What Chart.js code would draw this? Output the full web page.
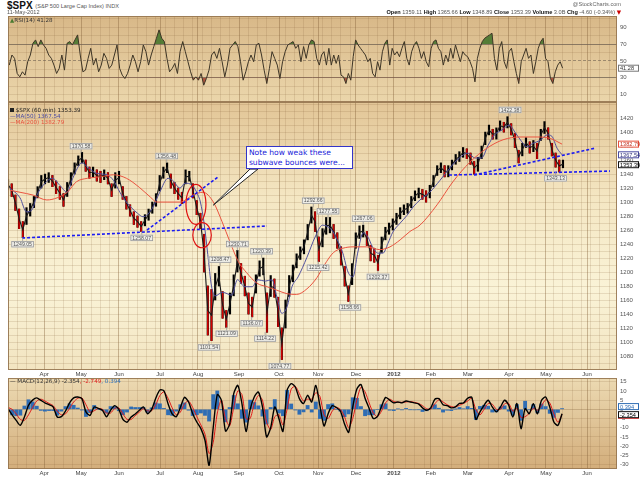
<!DOCTYPE html>
<html><head><meta charset="utf-8">
<title>$SPX 60 min</title>
<script src="https://cdn.jsdelivr.net/npm/chart.js@4.4.1/dist/chart.umd.min.js"></script>
<style>
html,body{margin:0;padding:0;background:#fff;}
body{width:640px;height:479px;position:relative;overflow:hidden;font-family:"Liberation Sans",Arial,sans-serif;}
.t{position:absolute;white-space:nowrap;line-height:1;z-index:3;}
canvas{position:absolute;left:0;}
.dv{font-family:"DejaVu Sans",sans-serif;}
</style></head><body>
<div class="t" style="left:7px;top:1px;font-size:10px;font-weight:bold;color:#111">$SPX <span style="font-size:5.6px;font-weight:normal;color:#555;position:relative;top:-1px">(S&amp;P 500 Large Cap Index) INDX</span></div>
<div class="t" style="left:7px;top:10px;font-size:5.6px;color:#555">11-May-2012</div>
<div class="t" style="right:19px;top:2px;font-size:5.6px;color:#666">@StockCharts.com</div>
<div class="t" style="right:19px;top:10px;font-size:5.6px;color:#555"><b style="color:#111">Open</b> 1359.11 <b style="color:#111">High</b> 1365.66 <b style="color:#111">Low</b> 1348.89 <b style="color:#111">Close</b> 1353.39 <b style="color:#111">Volume</b> 3.0B <b style="color:#111">Chg</b> -4.60 (-0.34%) <span class="dv" style="color:#c00">&#9660;</span></div>

<div class="t dv" style="left:10px;top:18px;font-size:5.6px;color:#333"><span style="color:#4a7a30">&#9650;</span>RSI(14) 41.28</div>

<div class="t dv" style="left:10px;top:107.5px;font-size:5.6px;color:#222"><span style="display:inline-block;width:4px;height:4px;background:#222"></span> $SPX (60 min) 1353.39</div>
<div class="t dv" style="left:10px;top:113.5px;font-size:5.6px;color:#4b4ba0">&#8212;MA(50) 1367.54</div>
<div class="t dv" style="left:10px;top:119.5px;font-size:5.6px;color:#e8503c">&#8212;MA(200) 1382.79</div>

<div class="t dv" style="left:10px;top:379px;font-size:5.6px;color:#333">&#8212; MACD(12,26,9) -2.354<span style="color:#e02020">, -2.749</span><span style="color:#3070b8">, 0.394</span></div>

<div id="note" class="t dv" style="border:1px solid #3434c8;background:#fff;color:#2222d8;font-size:7.6px;line-height:10px;padding:1px 2px;box-sizing:border-box;">Note how weak these<br>subwave bounces were...</div>

<canvas id="rsi" width="640" height="86" style="top:16px;width:640px;height:86px"></canvas>
<canvas id="main" width="640" height="276" style="top:102px;width:640px;height:276px"></canvas>
<canvas id="macd" width="640" height="101" style="top:378px;width:640px;height:101px"></canvas>

<script>
// ---------------- DATA ----------------
// time axis: trading days from start of data (early March 2011)
const monthTickDays   = [19.5, 39.5, 60, 82.2, 102.7, 124.9, 146.5, 167.6, 188.1, 208.6, 228.6, 248.6, 270.8, 290.8, 313];
const monthTickLabels = ['Apr','May','Jun','Jul','Aug','Sep','Oct','Nov','Dec','2012','Feb','Mar','Apr','May','Jun'];

// price (60 min bars, sampled every 2 trading days): high / low
const priceStartDay = 0, priceStepDays = 2;
const priceHigh = [1332,1326,1310,1290,1272,1292,1298,1308,1322,1338,
1340,1342,1338,1330,1322,1312,1328,1342,1356,1366,
1371,1360,1350,1350,1346,1344,1346,1342,1326,1342,
1344,1322,1308,1296,1286,1280,1272,1282,1290,1300,
1312,1338,1350,1356,1340,1328,1320,1314,1346,1344,
1326,1302,1284,1254,1180,1175,1198,1208,1172,1145,
1170,1196,1231,1212,1194,1170,1164,1196,1216,1220,
1170,1195,1190,1164,1120,1160,1195,1210,1226,1236,
1246,1268,1293,1286,1250,1262,1278,1278,1268,1256,
1236,1208,1180,1212,1256,1266,1267,1258,1238,1234,
1224,1250,1264,1270,1276,1284,1292,1296,1298,1308,
1316,1320,1318,1316,1324,1338,1352,1356,1352,1352,
1360,1368,1372,1378,1376,1370,1358,1364,1380,1400,
1410,1404,1406,1416,1414,1422,1412,1398,1374,1384,
1392,1386,1388,1384,1404,1415,1406,1384,1370,1360,
1360];
const priceLow = [1318,1308,1288,1262,1249,1268,1280,1292,1306,1320,
1326,1328,1322,1312,1304,1294,1308,1324,1340,1352,
1356,1344,1334,1336,1330,1328,1332,1326,1308,1320,
1326,1304,1290,1280,1268,1264,1258,1266,1274,1284,
1294,1316,1334,1342,1320,1312,1304,1298,1326,1330,
1306,1282,1262,1200,1110,1102,1160,1180,1134,1121,
1140,1166,1200,1184,1166,1140,1136,1170,1194,1196,
1114,1165,1164,1122,1075,1120,1165,1186,1206,1218,
1226,1246,1270,1258,1215,1236,1254,1256,1248,1234,
1210,1180,1158,1182,1234,1248,1250,1238,1216,1214,
1202,1228,1246,1254,1260,1268,1276,1282,1284,1292,
1302,1306,1304,1300,1306,1322,1338,1342,1336,1336,
1346,1354,1358,1364,1362,1354,1340,1344,1362,1382,
1396,1390,1390,1402,1400,1406,1396,1378,1356,1366,
1378,1370,1372,1362,1388,1398,1390,1366,1350,1343,
1349];
const lastClose = 1353.39;

// moving averages
const ma50Days = [1,6.5,10,13,15.7,19,24,28,32,35,40,43,48,53.5,57,60.5,64,70,73,78,82,86.5,89,93,95.7,99.5,102.7,104,106,108,110,112,116,121,124,128,132,135,139,142.7,145.4,148,150.8,153.5,156.8,161.6,166,170,175,178,181,183.8,186.5,189,192,194.6,197,200,202.7,205.4,208,212,215.7,219,222.7,228,233.5,239,244,248.6,252.4,256,259.5,263,267,271,274,277.8,280.5,283.8,287.6,291.4,294,296.8,299.5];
const ma50Vals = [1320,1306,1286,1289,1310,1324,1334,1324,1314,1334,1356,1350,1341,1339,1331,1314,1300,1284,1279,1291,1314,1334,1331,1320,1327,1324,1310,1300,1270,1225,1180,1166,1171,1167,1189,1179,1179,1189,1187,1189,1164,1141,1150,1179,1193,1221,1250,1267,1260,1246,1227,1200,1193,1227,1256,1250,1236,1227,1227,1241,1257,1270,1281,1293,1303,1314,1331,1349,1363,1370,1363,1363,1381,1396,1403,1410,1400,1386,1379,1384,1388,1396,1394,1377,1367.54];
const ma200Days = [1,6.5,13.5,21,26.5,32,37,43,50,57,64,71,77,80.5,86,93,100,105.4,111,115.7,120,124.3,129,134.6,140,145.4,150.8,156,161.6,167,171,176,181,186.5,194,201,206.5,212,217.3,222.7,231.9,240.5,249.7,258.9,267.6,276.8,286,293,299.5];
const ma200Vals = [1317,1314,1310,1303,1306,1314,1329,1334,1336,1339,1334,1321,1307,1300,1300,1300,1310,1314,1300,1272,1243,1216,1199,1184,1179,1174,1169,1168,1176,1192,1210,1228,1234,1236,1236,1232,1236,1246,1258,1267,1296,1329,1357,1377,1389,1393,1393,1391,1382.79];

// hand-drawn trendlines [day, price] pairs
const trendLines = [
  [[7.6,1248.6],[140,1265.7]],
  [[75.1,1260],[113.5,1335.7]],
  [[238.4,1338.6],[325.4,1344.3]],
  [[251.9,1338.6],[317.3,1377]]
];

// StockCharts price annotations
const peakLabels = ['1249.05','1370.58','1258.07','1356.48','1101.54','1208.47','1121.09','1230.71','1136.07','1220.39','1114.22','1074.77','1292.66','1215.42','1277.55','1158.66','1267.06','1202.37','1422.38','1343.13'];
const peakDays   = [7.9,39.5,72.3,85.8,108.6,114.6,118.2,124,131.7,137.1,139,147,165,167.6,173,184.9,192,200,271.4,296];
const peakSide   = ['below','above','below','above','below','above','below','above','below','above','below','below','above','below','above','below','above','below','above','below'];

// red ellipse annotations [day, price, radiusDays, radiusPrice]
const ellipses = [[101.6,1296.7,5.4,28.6],[104.9,1252.6,5.0,17.9]];
// callout box [day0, day1, priceTop, priceBottom], pointer tip and base
const noteBox = [128.6,186.5,1380,1347.1];
const notePointer = [[111,1295.7],[130.8,1347.1],[135.1,1347.1]];

// RSI(14)
const rsiPart1Span = [0.7,168.3];
const rsiPart1 = [45,57,53,35,31,37,33,49,57,71,
75,67,75,69,65,57,53,45,35,41,
57,39,71,73,69,75,81,57,37,39,
53,65,45,53,37,45,59,53,41,45,
57,69,41,33,29,35,45,57,49,37,
49,69,61,45,57,67,77,87,77,73,
53,37,41,47,35,61,73,61,49,37,
27,31,27,35,21,29,39,57,61,53,
65,49,31,45,65,69,73,67,49,27,
37,49,57,49,69,71,57,39,23,41,
61,53,45,29,49,61,69,71,73,65,
69,49,67,53,69,75,73,53,45];
const rsiPart2Span = [169.5,299.8];
const rsiPart2 = [57,61,45,65,45,57,47,57,33,31,
23,35,27,55,75,69,65,61,57,49,
53,35,31,49,39,61,71,75,45,65,
57,61,55,65,73,53,45,61,69,73,
65,53,61,49,43,65,73,75,65,61,
45,57,49,65,53,69,59,49,61,57,
55,49,41,25,53,65,73,77,79,81,
83,53,39,65,73,49,41,61,65,49,
35,23,49,57,65,53,57,35,49,65,
73,77,53,49,29,23,37,45,49,41.28];

// MACD(12,26,9)
const macdSpan = [0,299.5];
const macdLine = [0.4,-3,-6,-8.7,-4.2,2.2,5,6.2,4.9,3.5,
2.5,1.3,-4.2,-4,-1,3.5,6.2,6.7,5.8,-1.4,
-3.3,1.3,0.5,-0.5,-4,-0.5,2,0,-5.5,-7,
-4.2,-2.5,-0.5,1.3,-2.4,0,6,10.5,10,3,
-2.5,-4,1,6.5,4,-2.4,-6.9,-10.5,-16.8,-30.4,
-10,8,4.9,-11.8,-8,8.5,13,3.1,-12,0,
6.7,9.4,1.3,-15,-10,1.3,-5,-12,10.3,13.9,
12.1,5.8,3.1,7.6,4,13,2,-9,-2.4,2,
1,-1,-8,-12.5,1.3,11,13.5,6,0.5,-5,
-4,1.5,6.5,5,3.5,4,3.5,4.5,4,3.5,
3,0.8,-0.5,0.8,5.5,5.8,2.5,2,0.8,1.3,
3.2,3.5,6,6.5,-5.5,-1.4,2.2,4.9,1.3,-1.4,
1.3,4.9,2.2,-4.2,3.1,-10.5,0.4,-2.4,3.1,-2.4,
4.9,6.7,1.3,-6.9,-8.7,-2.354];
const macdSignal = [1,0,-2.5,-5.5,-6,-3,1,4.5,5.5,4.5,
3.2,2,-1,-3,-2.5,0.5,4,6,6.2,2.5,
-1.5,-0.8,0.5,0,-2,-2,0.5,0.8,-2.5,-5.5,
-5.5,-3.5,-1.5,0.3,-0.8,-0.8,2.5,7.5,9.5,6,
0.8,-3,-1.5,3,4.5,1,-4,-8.5,-13.5,-24,
-18,-2,5,-5,-9,1,10,8,-5,-5,
3,7.5,5,-7,-11,-4,-3,-8.5,0,11,
12.5,8.5,4.5,5.5,5.5,9,7,-3,-5,-1,
1,0,-4,-10,-5,5,12,9.5,3.5,-2,
-4,-1,3.5,5.5,4.2,3.8,3.8,4,4.2,3.8,
3.2,2,0.3,0.2,3,5.2,4,2.5,1.5,1.2,
2.2,3.2,4.5,6,0,-3,0,3.2,2.8,0,
0,3,3.2,-1,0.5,-4.5,-4,-2.2,0.5,-0.5,
2,5.2,3.5,-2.5,-7,-2.749];
const macdHist = [-0.6,-3,-3.5,-3.2,1.8,5.2,4,1.7,-0.6,-1,
-0.7,-0.7,-3.2,-1,1.5,3,2.2,0.7,-0.4,-3.9,
-1.8,2.1,0,-0.5,-2,1.5,1.5,-0.8,-3,-1.5,
1.3,1,1,1,-1.6,0.8,3.5,3,0.5,-3,
-3.3,-1,2.5,3.5,-0.5,-3.4,-2.9,-2,-3.3,-6.4,
8,10,-0.1,-6.8,1,7.5,3,-4.9,-7,5,
3.7,1.9,-3.7,-8,1,5.3,-2,-3.5,10.3,2.9,
-0.4,-2.7,-1.4,2.1,-1.5,4,-5,-6,2.6,3,
0,-1,-4,-2.5,6.3,6,1.5,-3.5,-3,-3,
0,2.5,3,-0.5,-0.7,0.2,-0.3,0.5,-0.2,-0.3,
-0.2,-1.2,-0.8,0.6,2.5,0.6,-1.5,-0.5,-0.7,0.1,
1,0.3,1.5,0.5,-5.5,1.6,2.2,1.7,-1.5,-1.4,
1.3,1.9,-1,-3.2,2.6,-6,4.4,-0.2,2.6,-1.9,
2.9,1.5,-2.2,-4.4,-1.7,0.394];

// axis tick values
const priceTickLabels = [1080,1100,1120,1140,1160,1180,1200,1220,1240,1260,1280,1300,1320,1340,1360,1380,1400,1420];
const rsiTickLabels = [90,70,50,30,10];
const macdTickLabels = [15,10,5,0,-5,-10,-15,-20,-25,-30];

// ---------------- CHART HELPERS ----------------
const FONT = '"Liberation Sans", Arial, sans-serif';
Chart.defaults.font.family = FONT;
Chart.defaults.animation = false;
Chart.defaults.plugins.legend.display = false;
Chart.defaults.plugins.tooltip.enabled = false;

const X_MAX = 329.2;
const weekly = [];
for (let v = 0; v <= X_MAX; v += 5) if (!monthTickDays.some(m => Math.abs(m - v) < 2)) weekly.push(v);
const gridDays = weekly.concat(monthTickDays).sort((a, b) => a - b);
const isMonth = v => monthTickDays.some(m => Math.abs(m - v) < 1e-6);
const monthLabel = v => { const i = monthTickDays.findIndex(m => Math.abs(m - v) < 1e-6); return i >= 0 ? monthTickLabels[i] : ''; };

function xAxis(showLabels, stripH) {
  return {
    type: 'linear', min: 0, max: X_MAX, offset: false,
    grid: { offset: false, drawTicks: false,
      color: c => (c.tick && isMonth(c.tick.value)) ? 'rgba(130,95,55,0.40)' : 'rgba(130,95,55,0.16)' },
    border: { display: false },
    ticks: { display: showLabels, autoSkip: false, maxRotation: 0, minRotation: 0, padding: 1, color: '#444',
      font: c => ({ family: FONT, size: 6, weight: (c.tick && c.tick.label === '2012') ? 'bold' : 'normal' }),
      callback: v => monthLabel(v) },
    afterBuildTicks: s => { s.ticks = gridDays.map(v => ({ value: v })); },
    afterFit: s => { s.height = stripH; s.paddingLeft = 0; s.paddingRight = 0; }
  };
}
function yAxis(min, max, gridVals, labelVals, colorFn, dashFn) {
  return {
    type: 'linear', position: 'right', min: min, max: max,
    grid: { drawTicks: false, color: colorFn },
    border: { display: false, dash: dashFn || (() => []) },
    ticks: { autoSkip: false, padding: 3, color: '#555', font: { family: FONT, size: 6 },
      callback: v => labelVals.includes(v) ? String(v) : '' },
    afterBuildTicks: s => { s.ticks = gridVals.map(v => ({ value: v })); },
    afterFit: s => { s.width = 23; s.paddingTop = 0; s.paddingBottom = 0; }
  };
}
function panelBg(stops) {
  return {
    id: 'panelBg',
    beforeDraw(chart) {
      const { ctx, chartArea: a } = chart;
      const g = ctx.createLinearGradient(0, a.top, 0, a.bottom);
      stops.forEach(s => g.addColorStop(s[0], s[1]));
      ctx.save(); ctx.fillStyle = g; ctx.fillRect(a.left, a.top, a.right - a.left, a.bottom - a.top); ctx.restore();
    },
    afterDatasetsDraw(chart) {
      const { ctx, chartArea: a } = chart;
      ctx.save(); ctx.strokeStyle = 'rgba(150,118,80,0.9)'; ctx.lineWidth = 1;
      ctx.strokeRect(a.left + 0.5, a.top + 0.5, a.right - a.left - 1, a.bottom - a.top - 1); ctx.restore();
    }
  };
}
function tag(ctx, x, y, text, stroke, color) {
  ctx.save();
  ctx.font = '5.6px ' + FONT;
  const w = 21, h = 7;
  ctx.fillStyle = '#fff'; ctx.fillRect(x, y - h / 2, w, h);
  ctx.strokeStyle = stroke; ctx.lineWidth = 1; ctx.strokeRect(x + 0.5, y - h / 2 + 0.5, w - 1, h - 1);
  ctx.fillStyle = color; ctx.textBaseline = 'middle'; ctx.fillText(text, x + 2, y + 0.5);
  ctx.restore();
}
const lastOf = a => a[a.length - 1];
const spread = (vals, span) => vals.map((v, i) => ({ x: span[0] + i * (span[1] - span[0]) / (vals.length - 1), y: v }));

// ---------------- RSI ----------------
const rsiPts = spread(rsiPart1, rsiPart1Span).concat(spread(rsiPart2, rsiPart2Span));
const rsiGrid = [10,20,30,40,50,60,70,80,90,100];
new Chart(document.getElementById('rsi'), {
  type: 'line',
  data: { datasets: [
    { data: rsiPts, borderColor: '#3e3526', borderWidth: 1, pointRadius: 0, tension: 0,
      fill: { target: { value: 70 }, above: 'rgba(70,118,45,0.9)', below: 'rgba(0,0,0,0)' } },
    { data: rsiPts, borderWidth: 0, borderColor: 'rgba(0,0,0,0)', pointRadius: 0, tension: 0,
      fill: { target: { value: 30 }, above: 'rgba(0,0,0,0)', below: 'rgba(165,70,50,0.9)' } }
  ] },
  options: {
    responsive: false, layout: { padding: { left: 8, right: 0, top: 0, bottom: 0 } },
    scales: {
      x: xAxis(false, 0),
      y: yAxis(1, 103.5, rsiGrid, rsiTickLabels,
        c => { const v = c.tick && c.tick.value; return (v === 70 || v === 30) ? 'rgba(110,95,80,0.75)' : (v === 50 ? 'rgba(110,95,80,0.6)' : 'rgba(130,95,55,0.16)'); },
        c => (c.tick && c.tick.value === 50) ? [3, 2] : [])
    }
  },
  plugins: [panelBg([[0, '#d8b888'], [1, '#ebd6ab']]), { id: 'rsiTag', afterDraw(chart) {
    tag(chart.ctx, 618, chart.scales.y.getPixelForValue(lastOf(rsiPart2)), String(lastOf(rsiPart2)), '#777', '#333');
  } }]
});

// ---------------- MAIN PRICE ----------------
const priceDays = priceHigh.map((_, i) => priceStartDay + i * priceStepDays);
const priceBars = priceDays.map((d, i) => ({ x: d, y: [priceLow[i], priceHigh[i]] }));
const priceMid = priceDays.map((d, i) => ({ x: d, y: (priceLow[i] + priceHigh[i]) / 2 }));
const downBars = priceBars.filter((b, i) => i > 0 && priceMid[i].y < priceMid[i - 1].y);
const ma50Pts = ma50Days.map((d, i) => ({ x: d, y: ma50Vals[i] }));
const ma200Pts = ma200Days.map((d, i) => ({ x: d, y: ma200Vals[i] }));
const priceGrid = []; for (let v = 1070; v <= 1440; v += 10) priceGrid.push(v);

const mainAnno = {
  id: 'mainAnno',
  afterDatasetsDraw(chart) {
    const { ctx, scales: { x, y } } = chart;
    ctx.save();
    // ellipses
    ctx.strokeStyle = '#e01010'; ctx.lineWidth = 1.2;
    ellipses.forEach(e => {
      const cx = x.getPixelForValue(e[0]), cy = y.getPixelForValue(e[1]);
      const rx = Math.abs(x.getPixelForValue(e[0] + e[2]) - cx), ry = Math.abs(y.getPixelForValue(e[1] + e[3]) - cy);
      ctx.beginPath(); ctx.ellipse(cx, cy, rx, ry, 0, 0, Math.PI * 2); ctx.stroke();
    });
    // callout pointer
    ctx.beginPath();
    notePointer.forEach((p, i) => { const px = x.getPixelForValue(p[0]), py = y.getPixelForValue(p[1]); i ? ctx.lineTo(px, py) : ctx.moveTo(px, py); });
    ctx.closePath(); ctx.fillStyle = '#fff'; ctx.fill(); ctx.strokeStyle = '#222'; ctx.lineWidth = 1; ctx.stroke();
    // peak labels
    ctx.font = '5.2px ' + FONT; ctx.textAlign = 'center'; ctx.textBaseline = 'middle';
    peakLabels.forEach((t, i) => {
      const px = x.getPixelForValue(peakDays[i]), py = y.getPixelForValue(parseFloat(t));
      const cy = peakSide[i] === 'above' ? py - 6.5 : py + 6.5;
      const w = ctx.measureText(t).width + 4, h = 6.5;
      ctx.strokeStyle = '#999'; ctx.lineWidth = 0.8;
      ctx.beginPath(); ctx.moveTo(px, py); ctx.lineTo(px, cy); ctx.stroke();
      ctx.fillStyle = 'rgba(238,238,234,0.95)'; ctx.fillRect(px - w / 2, cy - h / 2, w, h);
      ctx.strokeRect(px - w / 2 + 0.5, cy - h / 2 + 0.5, w - 1, h - 1);
      ctx.fillStyle = '#555'; ctx.fillText(t, px, cy + 0.3);
    });
    ctx.restore();
  },
  afterDraw(chart) {
    const y = chart.scales.y;
    tag(chart.ctx, 618, y.getPixelForValue(lastOf(ma200Vals)), lastOf(ma200Vals).toFixed(2), '#e8503c', '#c03020');
    tag(chart.ctx, 618, y.getPixelForValue(lastOf(ma50Vals)), lastOf(ma50Vals).toFixed(2), '#4b4ba0', '#33337a');
    tag(chart.ctx, 618, y.getPixelForValue(lastClose), lastClose.toFixed(2), '#111', '#000');
  }
};

const mainChart = new Chart(document.getElementById('main'), {
  type: 'line',
  data: { datasets: [
    ...trendLines.map(l => ({ data: l.map(p => ({ x: p[0], y: p[1] })), borderColor: '#1c1cf2', borderWidth: 1.6, borderDash: [3, 2], pointRadius: 0, order: 0 })),
    { data: ma200Pts, borderColor: '#ea5440', borderWidth: 1, pointRadius: 0, cubicInterpolationMode: 'monotone', order: 1 },
    { data: ma50Pts, borderColor: '#50509e', borderWidth: 1, pointRadius: 0, cubicInterpolationMode: 'monotone', order: 1 },
    { data: priceMid, borderColor: '#1a1a1a', borderWidth: 1.1, pointRadius: 0, tension: 0, order: 2 },
    { type: 'bar', data: downBars, backgroundColor: '#d00000', barThickness: 1, grouped: false, order: 3 },
    { type: 'bar', data: priceBars, backgroundColor: '#000', barThickness: 1.5, grouped: false, order: 4 }
  ] },
  options: {
    responsive: false, layout: { padding: { left: 8, right: 0, top: 0, bottom: 0 } },
    scales: {
      x: xAxis(true, 8),
      y: yAxis(1060, 1443, priceGrid, priceTickLabels, () => 'rgba(130,95,55,0.17)')
    }
  },
  plugins: [panelBg([[0, '#e2c596'], [0.35, '#f4e6c2'], [0.7, '#faf3d7'], [1, '#f2e4c0']]), mainAnno]
});

// position callout text box from data coordinates
(function () {
  const x = mainChart.scales.x, y = mainChart.scales.y, el = document.getElementById('note');
  const l = x.getPixelForValue(noteBox[0]), r = x.getPixelForValue(noteBox[1]);
  const t = y.getPixelForValue(noteBox[2]) + 102, b = y.getPixelForValue(noteBox[3]) + 102;
  el.style.left = l + 'px'; el.style.top = t + 'px'; el.style.width = (r - l) + 'px'; el.style.height = (b - t) + 'px';
})();

// ---------------- MACD ----------------
const macdGrid = [-30,-25,-20,-15,-10,-5,0,5,10,15];
new Chart(document.getElementById('macd'), {
  type: 'line',
  data: { datasets: [
    { data: spread(macdLine, macdSpan), borderColor: '#000', borderWidth: 1.4, pointRadius: 0, tension: 0.25, order: 0 },
    { data: spread(macdSignal, macdSpan), borderColor: '#e01a1a', borderWidth: 1, pointRadius: 0, tension: 0.25, order: 1 },
    { type: 'bar', data: spread(macdHist, macdSpan), backgroundColor: '#2f6db4', barThickness: 3.2, grouped: false, order: 2 }
  ] },
  options: {
    responsive: false, layout: { padding: { left: 8, right: 0, top: 0, bottom: 0 } },
    scales: {
      x: xAxis(true, 10),
      y: yAxis(-32.4, 17, macdGrid, macdTickLabels, c => (c.tick && c.tick.value === 0) ? 'rgba(130,95,55,0.3)' : 'rgba(130,95,55,0.17)')
    }
  },
  plugins: [panelBg([[0, '#ecdab2'], [1, '#d3ad7b']]), { id: 'macdTag', afterDraw(chart) {
    const y = chart.scales.y;
    tag(chart.ctx, 618, y.getPixelForValue(lastOf(macdSignal)) + 1, String(lastOf(macdSignal)), '#e01a1a', '#c01010');
    tag(chart.ctx, 618, y.getPixelForValue(lastOf(macdHist)) - 2, String(lastOf(macdHist)), '#2f6db4', '#2f6db4');
    tag(chart.ctx, 618, y.getPixelForValue(lastOf(macdLine)) + 1, String(lastOf(macdLine)), '#111', '#000');
  } }]
});
</script>
</body></html>
